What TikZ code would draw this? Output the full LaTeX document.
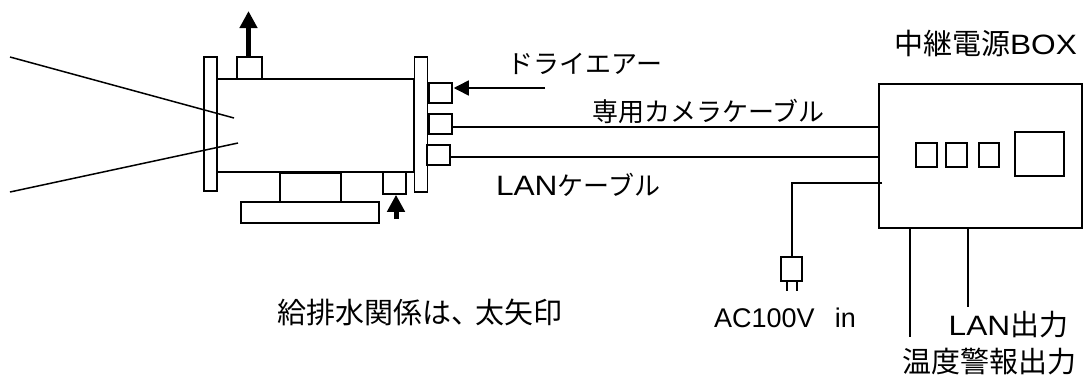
\documentclass[tikz,border=0pt]{standalone}
\usepackage{fontspec}
\setmainfont{Liberation Sans}
\newfontfamily\jp{Noto Sans CJK JP}
\newfontfamily\wide[FakeStretch=1.13]{Liberation Sans}
\usetikzlibrary{arrows.meta}
\tikzset{
  partbox/.style = {draw, rectangle, inner sep=0pt, line width=1.5pt},
  wire/.style = {line width=1.5pt},
  fatarrow/.style = {line width=5pt, -{Triangle[length=17pt,width=17pt]}},
  airarrow/.style = {line width=1.5pt, -{Triangle[length=15pt,width=15pt]}},
  label/.style = {inner sep=0pt, font=\fontsize{26}{28}\selectfont},
  biglabel/.style = {inner sep=0pt, font=\fontsize{29}{30}\selectfont}
}
\begin{document}
\begin{tikzpicture}[x=1pt, y=-1pt]
            \useasboundingbox (0,0) rectangle (1087,376);
            % camera housing
            \node[partbox, minimum width=197, minimum height=93] (housing) at (315.5,125.5) {};
            \node[partbox, minimum width=13, minimum height=134] (leftflange) at (210.5,124) {};
            \node[partbox, minimum width=13, minimum height=135] (rightflange) at (421,124.5) {};
            \node[partbox, minimum width=25, minimum height=22] (outport) at (249.5,68) {};
            \node[partbox, minimum width=23, minimum height=22] (inport) at (394.5,183) {};
            \node[partbox, minimum width=61, minimum height=29] (stand) at (310.5,187.5) {};
            \node[partbox, minimum width=138, minimum height=21] (plate) at (310,212.5) {};
            \node[partbox, minimum width=23, minimum height=20] (airport) at (440.5,93) {};
            \node[partbox, minimum width=23, minimum height=20] (camport) at (440.5,124) {};
            \node[partbox, minimum width=23, minimum height=20] (lanport) at (438.5,155) {};
            % view lines
            \coordinate (viewa) at (10,57);
            \coordinate (viewb) at (234,118);
            \coordinate (viewc) at (10,192);
            \coordinate (viewd) at (238,143);
            \draw[wire] (viewa) -- (viewb);
            \draw[wire] (viewc) -- (viewd);
            % relay box
            \node[partbox, minimum width=203, minimum height=144] (relaybox) at (980.5,156) {};
            \node[partbox, minimum width=21, minimum height=24] (lampa) at (926.5,155) {};
            \node[partbox, minimum width=21, minimum height=24] (lampb) at (956.5,155) {};
            \node[partbox, minimum width=20, minimum height=24] (lampc) at (989,155) {};
            \node[partbox, minimum width=49, minimum height=44] (panel) at (1039.5,154) {};
            % arrows
            \coordinate (outtip) at (248.5,11);
            \coordinate (intail) at (396,219);
            \coordinate (airtail) at (545,88);
            \draw[fatarrow] (outport.north -| outtip) -- (outtip);
            \draw[fatarrow] (intail) -- (intail |- inport.south);
            \draw[airarrow, shorten >=1pt] (airtail) -- (airport.east |- airtail);
            % cables
            \draw[wire] ([yshift=-3pt]camport.east) -- ([yshift=-3pt]camport.east -| relaybox.west);
            \draw[wire] ([yshift=-2pt]lanport.east) -- ([yshift=-2pt]lanport.east -| relaybox.west);
            \node[partbox, minimum width=21, minimum height=24] (plug) at (791.5,269) {};
            \coordinate (accorner) at (792,183);
            \coordinate (acend) at (882,183);
            \draw[wire] (acend) -- (accorner) -- (accorner |- plug.north);
            \coordinate (pina) at (787,291);
            \coordinate (pinb) at (797,291);
            \draw[wire] (pina |- plug.south) -- (pina);
            \draw[wire] (pinb |- plug.south) -- (pinb);
            \coordinate (alarmend) at (910,337);
            \coordinate (lanend) at (968,307);
            \draw[wire] (alarmend |- relaybox.south) -- (alarmend);
            \draw[wire] (lanend |- relaybox.south) -- (lanend);
            % labels
            \node[biglabel] (boxtext) at (985.5,43) {{\jp 中継電源}{\wide\fontsize{28}{30}\selectfont BOX}};
            \node[label] (airtext) at (585,64) {\jp ドライエアー};
            \node[label] (camtext) at (708.5,111) {\jp 専用カメラケーブル};
            \node[label] (lantext) at (578,185) {{\wide\fontsize{28}{30}\selectfont LAN}{\jp ケーブル}};
            \node[biglabel] (watertext) at (420,312) {\jp 給排水関係は、\hspace{-0.2em}太矢印};
            \node[label, font=\fontsize{27}{28}\selectfont] (actext) at (785,318) {AC100V\hspace{0.75em}in};
            \node[biglabel] (lanout) at (1008.5,325) {{\wide\fontsize{28}{30}\selectfont LAN}{\jp 出力}};
            \node[biglabel] (alarmtext) at (989,361) {\jp 温度警報出力};
          \end{tikzpicture}
\end{document}
